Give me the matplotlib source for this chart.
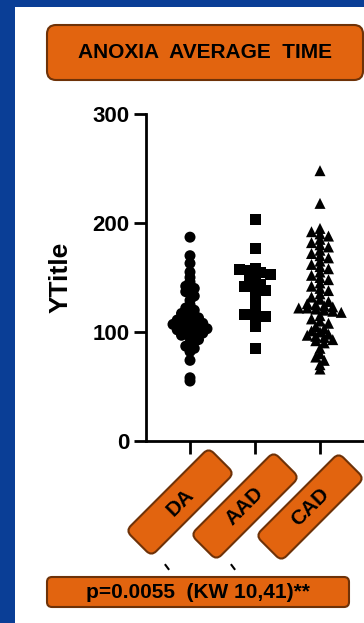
import numpy as np
import matplotlib
matplotlib.use("Agg")
import matplotlib.pyplot as plt
from matplotlib.patches import FancyBboxPatch, Rectangle
from matplotlib.lines import Line2D
import matplotlib.transforms as mtransforms

# data
groups = ["DA", "AAD", "CAD"]
markers = ["o", "s", "^"]
da = [187, 170, 163, 155, 150, 146, 142, 140, 137, 133, 129, 125, 122, 120,
      117, 115, 113, 111, 110, 109, 108, 107, 106, 105, 102, 104, 103, 101,
      100, 99, 97, 95, 93, 90, 87, 85, 82, 74, 58, 55]
aad = [203, 177, 158, 157, 156, 155, 153, 150, 146, 144, 142, 140, 138, 133,
       128, 125, 116, 115, 114, 105, 85]
cad = [248, 218, 195, 192, 190, 188, 185, 182, 180, 178, 175, 172, 170, 168,
       165, 162, 160, 158, 155, 152, 150, 148, 145, 142, 140, 138, 135, 132,
       130, 128, 126, 125, 124, 123, 122, 122, 121, 120, 119, 118, 115, 112,
       110, 108, 105, 103, 101, 100, 98, 97, 96, 95, 93, 92, 90, 85, 80, 77,
       74, 70, 66]
values = [da, aad, cad]
y_ticks = [0, 100, 200, 300]
y_label = "YTitle"
title = "ANOXIA  AVERAGE  TIME"
stat_text = "p=0.0055  (KW 10,41)**"

W, H, DPI = 364, 623, 100
blue = "#0A3E96"
orange = "#E2640F"
brown = "#6E3208"

plt.rcParams["font.family"] = ["Liberation Sans", "DejaVu Sans"]
plt.rcParams["font.weight"] = "bold"


def fig_rect(x0, y0, x1, y1):
    # pixel box (top-left origin) -> figure fraction
    return [x0 / W, 1 - y1 / H, (x1 - x0) / W, (y1 - y0) / H]


fig = plt.figure(figsize=(W / DPI, H / DPI), dpi=DPI, facecolor=blue)
fig.patches.append(Rectangle((15 / W, 0), 1, (H - 7) / H, transform=fig.transFigure,
                             fc="white", ec="none", zorder=-10))

ax = fig.add_axes(fig_rect(146, 114, 364, 441))
ax.patch.set_alpha(0)
ax.set_xlim(-0.677, 2.677)
ax.set_ylim(0, 300)
for s in ["top", "right"]:
    ax.spines[s].set_visible(False)
for s in ["left", "bottom"]:
    ax.spines[s].set_linewidth(2.0)
ax.spines["left"].set_bounds(0, 300)
ax.set_yticks(y_ticks)
ax.set_xticks(range(len(groups)))
ax.set_xticklabels([])
ax.tick_params(axis="both", width=2.0, length=9, labelsize=16, pad=3)
ax.set_ylabel(y_label, fontsize=19, fontweight="bold", labelpad=14)


def scatter_offsets(vals, bin_h, step):
    # Prism-like column scatter: points in the same y bin sit side by side
    vals = np.asarray(vals, dtype=float)
    bins = np.round(vals / bin_h).astype(int)
    offs = np.zeros(len(vals))
    for b in np.unique(bins):
        idx = np.where(bins == b)[0]
        n = len(idx)
        offs[idx] = (np.arange(n) - (n - 1) / 2) * step
    return offs


diam_px = 11
steps_px = [8.5, 10.5, 8.5]
px_per_x = ax.transData.transform((1, 0))[0] - ax.transData.transform((0, 0))[0]
for i, (vals, m) in enumerate(zip(values, markers)):
    offs = scatter_offsets(vals, 5.0, steps_px[i] / px_per_x)
    ax.scatter(i + offs, vals, marker=m, s=(diam_px * 0.72) ** 2, c="black",
               edgecolors="none", clip_on=False, zorder=3)


def px_to_disp(x, y):
    return x, H - y


# rounded orange label boxes
def flat_box(cx, cy, w, h, text, fs, r):
    x0, y0 = px_to_disp(cx - w / 2, cy + h / 2)
    fig.add_artist(FancyBboxPatch((x0, y0), w, h, boxstyle=f"round,pad=0,rounding_size={r}",
                                  fc=orange, ec=brown, lw=1.5, transform=mtransforms.IdentityTransform()))
    fig.text(cx / W, 1 - cy / H, text, ha="center", va="center", fontsize=fs,
             fontweight="bold", color="black")


def rot_box(cx, cy, w, h, text, fs, r):
    dx, dy = px_to_disp(cx, cy)
    tr = mtransforms.Affine2D().rotate_deg(45).translate(dx, dy)
    fig.add_artist(FancyBboxPatch((-w / 2, -h / 2), w, h, boxstyle=f"round,pad=0,rounding_size={r}",
                                  fc=orange, ec=brown, lw=1.5, transform=tr))
    fig.text(cx / W, 1 - cy / H, text, ha="center", va="center", rotation=45,
             rotation_mode="anchor", fontsize=fs, fontweight="bold", color="black")


flat_box(205, 52.5, 316, 55, title, 15, 9)
flat_box(198, 592, 302, 30, stat_text, 15, 5)

label_x = [180, 245, 310]
for lx, ly, g in zip(label_x, [502, 506, 507], groups):
    rot_box(lx, ly, 117, 36, g, 15, 7)

# small leftover marks under the DA and AAD boxes
for mx in [167, 233]:
    fig.add_artist(Line2D([(mx - 1.5) / W, (mx + 1.5) / W], [1 - 565 / H, 1 - 569 / H],
                          transform=fig.transFigure, color="black", lw=1.5))

fig.savefig("out.png", dpi=DPI, facecolor=fig.get_facecolor())
